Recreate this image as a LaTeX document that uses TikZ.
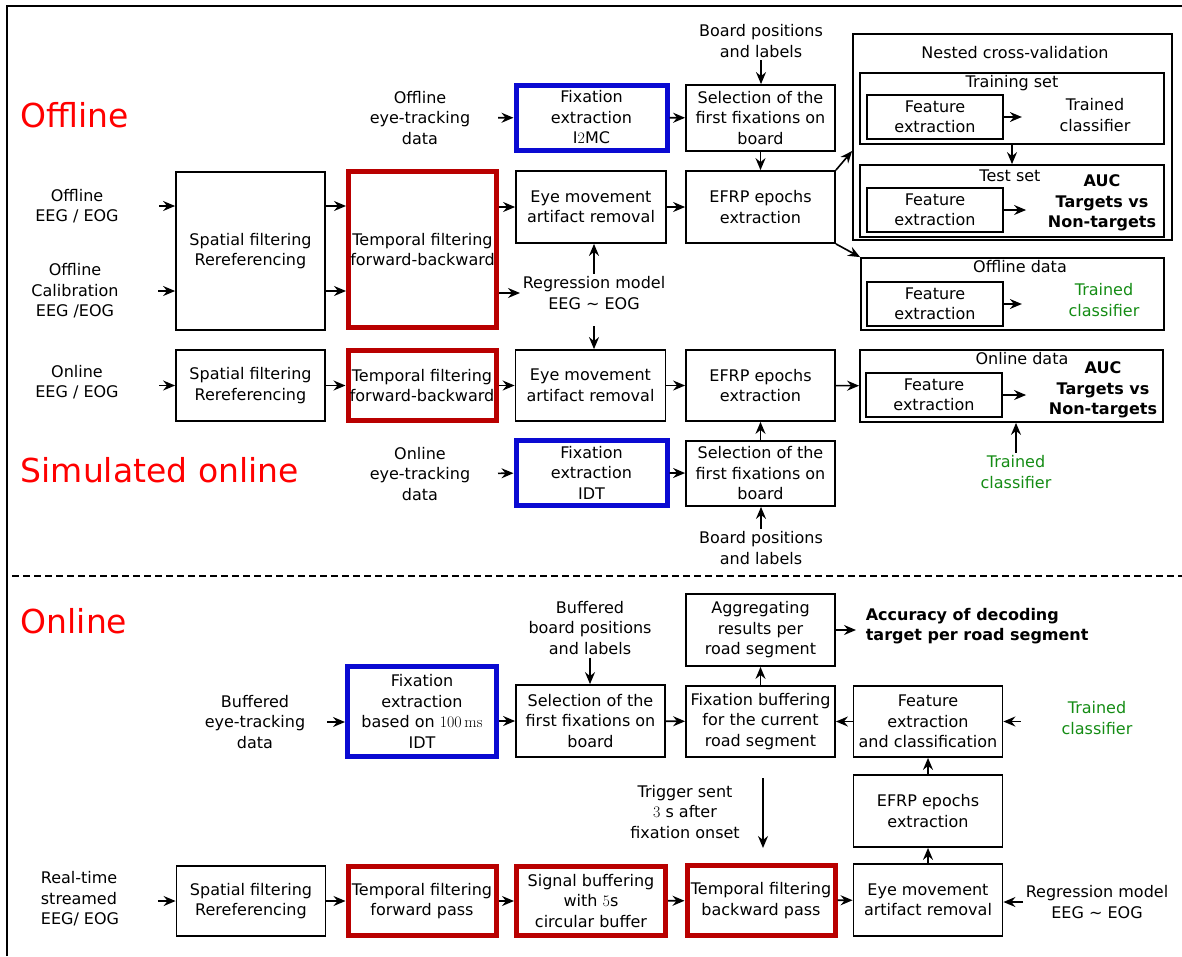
\documentclass[tikz,border=0pt]{standalone}
\usepackage{fontspec}
\setsansfont{DejaVu Sans}
\usetikzlibrary{arrows.meta}
\definecolor{boxred}{RGB}{185,0,0}
\definecolor{boxblue}{RGB}{10,10,210}
\definecolor{clfgreen}{RGB}{20,140,20}

\begin{document}
\begin{tikzpicture}[x=1pt, y=-1pt, font=\sffamily\fontsize{16}{20.5}\selectfont,
  >={Stealth[length=12pt,width=10pt,inset=4pt]}, line width=1.6pt,
  box/.style={draw, line width=1.8pt, align=center, inner sep=0pt, minimum width=149pt, minimum height=71pt},
  redbox/.style={box, draw=boxred, line width=5pt},
  bluebox/.style={box, draw=boxblue, line width=5pt},
  febox/.style={box, minimum width=136pt, minimum height=44pt},
  setbox/.style={box, minimum width=304pt, minimum height=71pt},
  sect/.style={text=red, font=\sffamily\fontsize{33}{40}\selectfont, anchor=west, inner sep=0pt},
  lbl/.style={align=center, inner sep=2pt},
  res/.style={lbl, font=\sffamily\bfseries\fontsize{16}{20.5}\selectfont}]
	\useasboundingbox (0,0) rectangle (1182,956);
	\draw[line width=1.5pt] (7,956) -- (7,6) -- (1182,6);
	\draw[dash pattern=on 7pt off 4pt, line width=1.2pt] (12,576) -- (1182,576);

	\node[sect] at (20,115) (offl) {Offline};
	\node[lbl] at (77,206) (in1) {Offline\\EEG / EOG};
	\node[lbl] at (75,291) (in2) {Offline\\Calibration\\EEG /EOG};
	\node[box, minimum height=158pt] at (250.5,251) (sp1) {Spatial filtering\\Rereferencing};
	\node[redbox, minimum width=148pt, minimum height=156pt] at (422.5,249.5) (tf1) {Temporal filtering\\forward-backward};
	\node[lbl] at (420,118) (et1) {Offline\\eye-tracking\\data};
	\node[bluebox, minimum width=151pt, minimum height=65pt] at (591.5,117.5) (fx1) {Fixation\\extraction\\I{\rmfamily 2}MC};
	\node[box, minimum height=66pt] at (760.5,118) (sel1) {Selection of the\\first fixations on\\board};
	\node[lbl] at (761,41) (bp1) {Board positions\\and labels};
	\node[box, minimum width=150pt, minimum height=72pt] at (591,207) (eye1) {Eye movement\\artifact removal};
	\node[box, minimum height=72pt] at (760.5,207) (efrp1) {EFRP epochs\\extraction};
	\node[lbl] at (594,293) (reg1) {Regression model\\EEG \textasciitilde{} EOG};

	\node[box, minimum width=319pt, minimum height=206pt] at (1012.5,137) (ncv) {};
	\node[lbl] at (1015,53) (ncvt) {Nested cross-validation};
	\node[setbox] at (1012,108.5) (trn) {};
	\node[lbl] at (1012,83) (trnt) {Training set};
	\node[febox] at (935,117) (fe1) {Feature\\extraction};
	\node[lbl] at (1095,115) (tc1) {Trained\\classifier};
	\node[setbox, minimum height=72pt] at (1012,201) (tst) {};
	\node[lbl] at (1010,176) (tstt) {Test set};
	\node[febox] at (935,210) (fe2) {Feature\\extraction};
	\node[res] at (1102,203) (auc1) {AUC\\Targets vs\\Non-targets};
	\node[setbox, minimum width=303pt, minimum height=72pt] at (1012.5,294) (odb) {};
	\node[lbl] at (1020,267) (odbt) {Offline data};
	\node[febox] at (935,304) (fe3) {Feature\\extraction};
	\node[lbl, text=clfgreen] at (1104,300) (tc2) {Trained\\classifier};

	\node[lbl] at (77,382) (in3) {Online\\EEG / EOG};
	\node[box] at (250.5,385.5) (sp2) {Spatial filtering\\Rereferencing};
	\node[redbox, minimum width=148pt, minimum height=70pt] at (422,385.5) (tf2) {Temporal filtering\\forward-backward};
	\node[box, minimum width=150pt] at (590.5,385.5) (eye2) {Eye movement\\artifact removal};
	\node[box] at (760.5,385.5) (efrp2) {EFRP epochs\\extraction};
	\node[setbox, minimum width=303pt, minimum height=72pt] at (1011.5,386) (onb) {};
	\node[lbl] at (1022,359) (onbt) {Online data};
	\node[febox] at (934,395) (fe4) {Feature\\extraction};
	\node[res] at (1103,390) (auc2) {AUC\\Targets vs\\Non-targets};
	\node[lbl, text=clfgreen] at (1016,472) (tc3) {Trained\\classifier};
	\node[sect] at (20,470) (siml) {Simulated online};
	\node[lbl] at (420,474) (et2) {Online\\eye-tracking\\data};
	\node[bluebox, minimum width=151pt, minimum height=65pt] at (591.5,472.5) (fx2) {Fixation\\extraction\\IDT};
	\node[box, minimum height=65pt] at (760.5,473.5) (sel2) {Selection of the\\first fixations on\\board};
	\node[lbl] at (761,548) (bp2) {Board positions\\and labels};

	\node[sect] at (20,621) (onl) {Online};
	\node[lbl] at (255,722) (bet) {Buffered\\eye-tracking\\data};
	\node[bluebox, minimum height=90pt] at (422,711.5) (fx3) {Fixation\\extraction\\based on {\rmfamily 100\,ms}\\IDT};
	\node[box, minimum height=72pt] at (590.5,721) (bsel) {Selection of the\\first fixations on\\board};
	\node[lbl] at (590,628) (bbp) {Buffered\\board positions\\and labels};
	\node[box] at (760.5,721.5) (fbuf) {Fixation buffering\\for the current\\road segment};
	\node[box, minimum height=72pt] at (760.5,630) (agg) {Aggregating\\results per\\road segment};
	\node[res, anchor=west, align=left] at (863,626) (acc) {Accuracy of decoding\\target per road segment};
	\node[box] at (928,721.5) (fcl) {Feature\\extraction\\and classification};
	\node[lbl, text=clfgreen] at (1097,718) (tc4) {Trained\\classifier};
	\node[box, minimum height=72pt] at (928,811) (efrp3) {EFRP epochs\\extraction};
	\node[box, minimum height=72pt] at (928,900) (eye3) {Eye movement\\artifact removal};
	\node[lbl] at (1097,902) (reg2) {Regression model\\EEG \textasciitilde{} EOG};
	\node[lbl, align=left] at (80,899) (rt) {Real-time\\streamed\\EEG/ EOG};
	\node[box, minimum height=70pt] at (251,901) (sp3) {Spatial filtering\\Rereferencing};
	\node[redbox, minimum width=148pt, minimum height=69pt] at (422,901) (tf3) {Temporal filtering\\forward pass};
	\node[redbox, minimum height=69pt] at (591,901) (sbuf) {Signal buffering\\with {\rmfamily 5}s\\circular buffer};
	\node[redbox, minimum width=148pt, minimum height=70pt] at (761,900.5) (tf4) {Temporal filtering\\backward pass};
	\node[lbl] at (685,812) (trg) {Trigger sent\\{\rmfamily 3} s after\\fixation onset};
	\coordinate (trgA) at (763,778);
	\coordinate (trgB) at (763,848);

	\draw[->, shorten <=38pt] (in1.east) -- (sp1.west |- in1);
	\draw[->, shorten <=37pt] (in2.east) -- (sp1.west |- in2);
	\draw[->] (sp1.east |- in1) -- (tf1.west |- in1);
	\draw[->] (sp1.east |- in2) -- (tf1.west |- in2);
	\draw[->] (tf1.east |- eye1) -- (eye1);
	\draw[->] (tf1.east |- reg1) -- (reg1);
	\draw[->] (reg1) -- (reg1 |- eye1.south);
	\draw[->, shorten <=14pt] (reg1) -- (reg1 |- eye2.north);
	\draw[->, shorten <=25pt] (et1) -- (fx1);
	\draw[->] (fx1) -- (sel1);
	\draw[->] (bp1) -- (bp1 |- sel1.north);
	\draw[->] (sel1) -- (efrp1);
	\draw[->] (eye1) -- (efrp1);
	\draw[->] (efrp1.north east) -- (ncv.185);
	\draw[->] (efrp1.south east) -- (odb.north west);
	\draw[->] (trn) -- (tst);
	\draw[->, shorten >=35pt] (fe1) -- (fe1 -| tc1.west);
	\draw[->, shorten >=19pt] (fe2) -- (fe2 -| auc1.west);
	\draw[->, shorten >=44pt] (fe3) -- (fe3 -| tc2.west);

	\draw[->, shorten <=38pt] (in3.east |- sp2) -- (sp2);
	\draw[->] (sp2) -- (tf2);
	\draw[->] (tf2) -- (eye2);
	\draw[->] (eye2) -- (efrp2);
	\draw[->] (efrp2) -- (onb);
	\draw[->, shorten >=20pt] (fe4) -- (fe4 -| auc2.west);
	\draw[->] (tc3) -- (tc3 |- onb.south);
	\draw[->, shorten <=25pt] (et2) -- (fx2);
	\draw[->] (fx2) -- (sel2);
	\draw[->] (sel2) -- (efrp2);
	\draw[->] (bp2) -- (bp2 |- sel2.south);

	\draw[->, shorten <=19pt] (bet) -- (fx3.west |- bet);
	\draw[->] (fx3.east |- bsel) -- (bsel);
	\draw[->] (bbp) -- (bbp |- bsel.north);
	\draw[->] (bsel) -- (fbuf);
	\draw[->] (fbuf) -- (agg);
	\draw[->, shorten >=7pt] (agg) -- (agg -| acc.west);
	\draw[->] (fcl) -- (fbuf);
	\draw[->, shorten <=38pt] (tc4.west |- fcl) -- (fcl);
	\draw[->] (efrp3) -- (fcl);
	\draw[->] (eye3) -- (efrp3);
	\draw[->] (reg2) -- (reg2 -| eye3.east);
	\draw[->, shorten <=36pt] (rt.east |- sp3) -- (sp3);
	\draw[->] (sp3) -- (tf3);
	\draw[->] (tf3) -- (sbuf);
	\draw[->] (sbuf) -- (tf4);
	\draw[->] (tf4) -- (eye3);
	\draw[->] (trgA) -- (trgB);
\end{tikzpicture}
\end{document}
